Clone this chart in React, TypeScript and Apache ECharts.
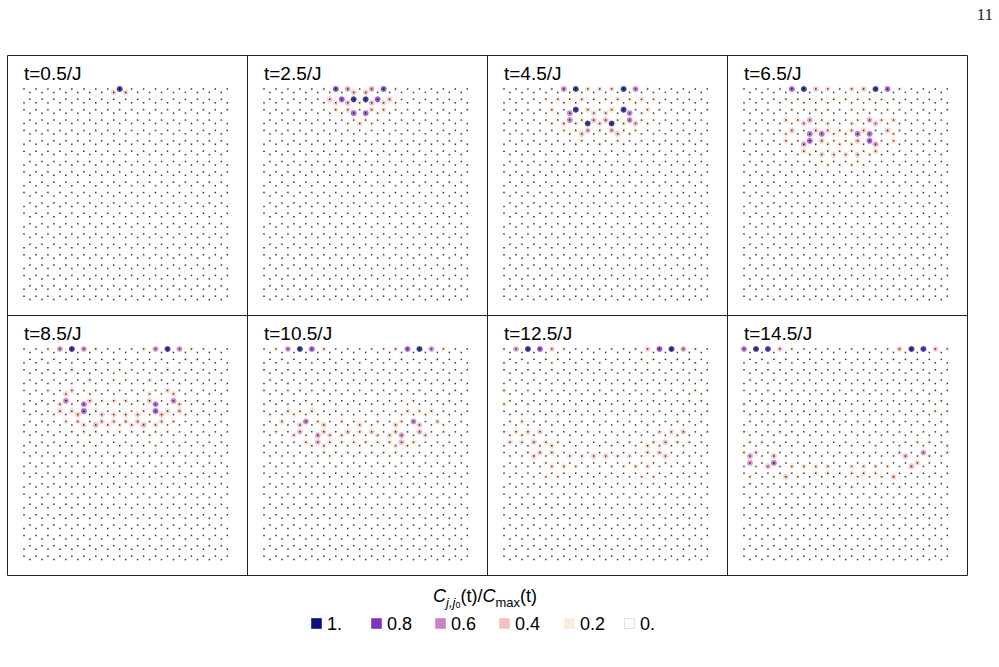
import React, { useEffect, useRef } from "react";
import * as echarts from "echarts";

// ---------- data ----------
const panelTitles = ["t=0.5/J", "t=2.5/J", "t=4.5/J", "t=6.5/J", "t=8.5/J", "t=10.5/J", "t=12.5/J", "t=14.5/J"];
const legendLabels = ["1.", "0.8", "0.6", "0.4", "0.2", "0."];
const legendColors = ["#100d80", "#7d34c2", "#d081c1", "#f4c0c0", "#fdecd8", "#ffffff"];
const pageNumber = "11";
const NX = 35; // sites per zigzag chain
const NK = 21; // number of zigzag chains

// [column i, chain k, C/Cmax]
const corr05 = [[16, 0, 1.0], [15, 0, 0.35], [17, 0, 0.35]];

const corr25 = [
  [10, 0, 0.12], [12, 0, 0.85], [14, 0, 0.55], [15, 0, 0.4], [17, 0, 0.4], [18, 0, 0.55], [20, 0, 0.85], [22, 0, 0.12],
  [11, 1, 0.4], [13, 1, 0.8], [15, 1, 1.0], [17, 1, 1.0], [19, 1, 0.8], [21, 1, 0.4], [12, 1, 0.3], [14, 1, 0.45], [16, 1, 0.2], [18, 1, 0.45], [20, 1, 0.3], [10, 1, 0.12], [22, 1, 0.12],
  [12, 2, 0.25], [14, 2, 0.3], [18, 2, 0.3], [20, 2, 0.25], [15, 2, 0.75], [17, 2, 0.75], [13, 2, 0.15], [19, 2, 0.15], [11, 2, 0.12], [21, 2, 0.12],
  [14, 3, 0.15], [16, 3, 0.3], [18, 3, 0.15], [15, 3, 0.12], [17, 3, 0.12],
];

const corr45 = [
  [8, 0, 0.15], [10, 0, 0.65], [12, 0, 1.0], [14, 0, 0.3], [16, 0, 0.3], [18, 0, 0.3], [20, 0, 1.0], [22, 0, 0.65], [24, 0, 0.15],
  [7, 1, 0.12], [9, 1, 0.25], [11, 1, 0.15], [13, 1, 0.25], [15, 1, 0.15], [17, 1, 0.15], [19, 1, 0.25], [21, 1, 0.15], [23, 1, 0.25], [25, 1, 0.12], [10, 1, 0.12], [22, 1, 0.12],
  [8, 2, 0.25], [12, 2, 1.0], [14, 2, 0.3], [18, 2, 0.3], [20, 2, 1.0], [24, 2, 0.25], [11, 2, 0.65], [15, 2, 0.3], [17, 2, 0.3], [21, 2, 0.65], [6, 2, 0.1], [26, 2, 0.1], [16, 2, 0.12], [9, 2, 0.12], [23, 2, 0.12],
  [11, 3, 0.65], [13, 3, 0.15], [15, 3, 0.45], [17, 3, 0.45], [19, 3, 0.15], [21, 3, 0.65], [10, 3, 0.3], [12, 3, 0.2], [14, 3, 1.0], [16, 3, 0.3], [18, 3, 1.0], [20, 3, 0.2], [22, 3, 0.4], [9, 3, 0.12], [23, 3, 0.12], [24, 3, 0.15], [8, 3, 0.15],
  [14, 4, 0.45], [16, 4, 0.2], [18, 4, 0.45], [13, 4, 0.4], [19, 4, 0.4], [11, 4, 0.15], [21, 4, 0.15], [10, 4, 0.12], [22, 4, 0.12], [12, 4, 0.15], [20, 4, 0.15],
  [16, 5, 0.2], [12, 5, 0.1], [20, 5, 0.1], [13, 5, 0.12], [19, 5, 0.12],
];

const corr65 = [
  [6, 0, 0.12], [8, 0, 0.75], [10, 0, 1.0], [12, 0, 0.4], [14, 0, 0.3], [16, 0, 0.15], [18, 0, 0.3], [20, 0, 0.4], [22, 0, 1.0], [24, 0, 0.75], [26, 0, 0.12],
  [7, 1, 0.12], [9, 1, 0.1], [11, 1, 0.15], [13, 1, 0.12], [15, 1, 0.15], [17, 1, 0.15], [19, 1, 0.12], [21, 1, 0.15], [23, 1, 0.1], [25, 1, 0.12], [6, 1, 0.1], [10, 1, 0.1], [14, 1, 0.1], [18, 1, 0.1], [22, 1, 0.1], [26, 1, 0.1],
  [6, 2, 0.12], [8, 2, 0.1], [12, 2, 0.12], [14, 2, 0.12], [18, 2, 0.12], [20, 2, 0.12], [24, 2, 0.1], [26, 2, 0.12], [11, 2, 0.1], [21, 2, 0.1],
  [7, 3, 0.3], [9, 3, 0.25], [11, 3, 0.5], [21, 3, 0.5], [23, 3, 0.25], [25, 3, 0.3], [10, 3, 0.4], [14, 3, 0.25], [18, 3, 0.25], [22, 3, 0.4], [6, 3, 0.12], [26, 3, 0.12], [13, 3, 0.12], [19, 3, 0.12],
  [6, 4, 0.15], [8, 4, 0.4], [12, 4, 0.35], [14, 4, 0.3], [16, 4, 0.25], [18, 4, 0.3], [20, 4, 0.35], [24, 4, 0.4], [26, 4, 0.15], [11, 4, 0.7], [13, 4, 0.7], [19, 4, 0.7], [21, 4, 0.7], [7, 4, 0.2], [25, 4, 0.2], [15, 4, 0.2], [17, 4, 0.2],
  [7, 5, 0.25], [11, 5, 0.75], [13, 5, 0.4], [19, 5, 0.4], [21, 5, 0.75], [25, 5, 0.25], [10, 5, 0.55], [14, 5, 0.2], [16, 5, 0.2], [18, 5, 0.2], [22, 5, 0.55], [8, 5, 0.15], [24, 5, 0.15], [15, 5, 0.15], [17, 5, 0.15],
  [10, 6, 0.3], [22, 6, 0.3], [13, 6, 0.35], [15, 6, 0.3], [17, 6, 0.3], [19, 6, 0.35], [12, 6, 0.15], [20, 6, 0.15], [11, 6, 0.12], [21, 6, 0.12], [14, 6, 0.15], [18, 6, 0.15], [16, 6, 0.12],
  [12, 7, 0.12], [14, 7, 0.15], [16, 7, 0.12], [18, 7, 0.15], [20, 7, 0.12], [13, 7, 0.1], [19, 7, 0.1],
];

const corr85 = [
  [4, 0, 0.15], [6, 0, 0.6], [8, 0, 1.0], [10, 0, 0.6], [12, 0, 0.2], [20, 0, 0.2], [22, 0, 0.6], [24, 0, 1.0], [26, 0, 0.6], [28, 0, 0.15],
  [3, 1, 0.12], [5, 1, 0.15], [27, 1, 0.15], [29, 1, 0.12], [9, 1, 0.1], [23, 1, 0.1],
  [8, 2, 0.25], [24, 2, 0.25], [16, 2, 0.1], [4, 2, 0.1], [28, 2, 0.1],
  [11, 3, 0.25], [21, 3, 0.25], [6, 3, 0.1], [26, 3, 0.1], [15, 3, 0.1], [17, 3, 0.1],
  [8, 4, 0.3], [7, 4, 0.3], [24, 4, 0.3], [25, 4, 0.3], [11, 4, 0.2], [21, 4, 0.2], [4, 4, 0.1], [28, 4, 0.1],
  [3, 5, 0.15], [7, 5, 0.65], [11, 5, 0.35], [15, 5, 0.25], [17, 5, 0.25], [21, 5, 0.35], [25, 5, 0.65], [29, 5, 0.15], [6, 5, 0.3], [10, 5, 0.7], [22, 5, 0.7], [26, 5, 0.3], [13, 5, 0.12], [19, 5, 0.12],
  [6, 6, 0.35], [8, 6, 0.3], [10, 6, 0.75], [22, 6, 0.75], [24, 6, 0.3], [26, 6, 0.35], [9, 6, 0.4], [13, 6, 0.35], [15, 6, 0.3], [17, 6, 0.3], [19, 6, 0.35], [23, 6, 0.4], [12, 6, 0.15], [20, 6, 0.15], [5, 6, 0.12], [27, 6, 0.12],
  [7, 7, 0.2], [13, 7, 0.35], [15, 7, 0.3], [17, 7, 0.3], [19, 7, 0.35], [23, 7, 0.3], [25, 7, 0.2], [9, 7, 0.3], [12, 7, 0.45], [20, 7, 0.45], [14, 7, 0.25], [18, 7, 0.25], [10, 7, 0.3], [22, 7, 0.3], [16, 7, 0.2],
  [8, 8, 0.12], [10, 8, 0.15], [12, 8, 0.15], [14, 8, 0.12], [16, 8, 0.1], [18, 8, 0.12], [20, 8, 0.15], [22, 8, 0.15], [24, 8, 0.12], [11, 8, 0.12], [21, 8, 0.12],
  [12, 9, 0.08], [14, 9, 0.08], [16, 9, 0.1], [18, 9, 0.08], [20, 9, 0.08],
];

const corr105 = [
  [2, 0, 0.15], [4, 0, 0.6], [6, 0, 1.0], [8, 0, 0.75], [10, 0, 0.25], [22, 0, 0.25], [24, 0, 0.75], [26, 0, 1.0], [28, 0, 0.6], [30, 0, 0.15],
  [3, 1, 0.12], [5, 1, 0.1], [9, 1, 0.15], [23, 1, 0.15], [27, 1, 0.1], [29, 1, 0.12], [11, 1, 0.1], [21, 1, 0.1],
  [0, 2, 0.15], [34, 2, 0.12], [4, 2, 0.1], [28, 2, 0.1], [12, 2, 0.08], [20, 2, 0.08],
  [1, 3, 0.12], [4, 3, 0.12], [27, 3, 0.12], [31, 3, 0.1], [8, 3, 0.1], [24, 3, 0.1], [15, 3, 0.08], [17, 3, 0.08],
  [0, 4, 0.12], [6, 4, 0.15], [10, 4, 0.12], [22, 4, 0.12], [26, 4, 0.15], [32, 4, 0.12], [3, 4, 0.1], [29, 4, 0.1],
  [1, 5, 0.12], [7, 5, 0.15], [11, 5, 0.1], [21, 5, 0.1], [25, 5, 0.15], [31, 5, 0.12], [2, 5, 0.1], [30, 5, 0.1],
  [4, 6, 0.25], [6, 6, 0.2], [8, 6, 0.25], [24, 6, 0.25], [26, 6, 0.2], [28, 6, 0.25], [1, 6, 0.12], [31, 6, 0.12], [5, 6, 0.15], [27, 6, 0.15], [13, 6, 0.1], [19, 6, 0.1],
  [3, 7, 0.3], [7, 7, 0.65], [25, 7, 0.65], [29, 7, 0.3], [6, 7, 0.4], [10, 7, 0.35], [16, 7, 0.3], [22, 7, 0.35], [26, 7, 0.4], [9, 7, 0.2], [23, 7, 0.2], [13, 7, 0.2], [19, 7, 0.2], [2, 7, 0.12], [30, 7, 0.12], [14, 7, 0.15], [18, 7, 0.15],
  [6, 8, 0.45], [10, 8, 0.35], [14, 8, 0.35], [16, 8, 0.25], [18, 8, 0.35], [22, 8, 0.35], [26, 8, 0.45], [5, 8, 0.3], [9, 8, 0.55], [11, 8, 0.3], [13, 8, 0.25], [19, 8, 0.25], [21, 8, 0.3], [23, 8, 0.55], [27, 8, 0.3], [2, 8, 0.15], [30, 8, 0.15],
  [9, 9, 0.45], [23, 9, 0.45], [7, 9, 0.25], [11, 9, 0.25], [13, 9, 0.2], [15, 9, 0.2], [17, 9, 0.2], [19, 9, 0.2], [21, 9, 0.25], [25, 9, 0.25], [8, 9, 0.2], [24, 9, 0.2], [10, 9, 0.25], [22, 9, 0.25],
  [10, 10, 0.15], [12, 10, 0.12], [14, 10, 0.12], [16, 10, 0.12], [18, 10, 0.12], [20, 10, 0.12], [22, 10, 0.15], [9, 10, 0.1], [23, 10, 0.1],
  [12, 11, 0.08], [16, 11, 0.08], [20, 11, 0.08],
];

const corr125 = [
  [0, 0, 0.15], [2, 0, 0.55], [4, 0, 1.0], [6, 0, 0.8], [8, 0, 0.35], [10, 0, 0.12], [22, 0, 0.12], [24, 0, 0.35], [26, 0, 0.8], [28, 0, 1.0], [30, 0, 0.55], [32, 0, 0.15],
  [1, 1, 0.12], [3, 1, 0.1], [7, 1, 0.15], [9, 1, 0.15], [23, 1, 0.15], [25, 1, 0.12], [29, 1, 0.12], [31, 1, 0.12], [0, 1, 0.08], [32, 1, 0.08],
  [0, 2, 0.1], [4, 2, 0.1], [8, 2, 0.12], [14, 2, 0.08], [24, 2, 0.12], [28, 2, 0.1], [32, 2, 0.1],
  [1, 3, 0.12], [5, 3, 0.1], [10, 3, 0.1], [22, 3, 0.1], [27, 3, 0.1], [33, 3, 0.12],
  [0, 4, 0.2], [6, 4, 0.12], [16, 4, 0.08], [26, 4, 0.12], [32, 4, 0.15], [34, 4, 0.12],
  [0, 5, 0.15], [1, 5, 0.15], [4, 5, 0.1], [7, 5, 0.12], [16, 5, 0.15], [25, 5, 0.1], [31, 5, 0.12], [33, 5, 0.12],
  [2, 6, 0.12], [6, 6, 0.12], [9, 6, 0.15], [22, 6, 0.12], [26, 6, 0.12], [30, 6, 0.12], [34, 6, 0.1],
  [1, 7, 0.15], [3, 7, 0.2], [8, 7, 0.1], [24, 7, 0.12], [29, 7, 0.15], [33, 7, 0.1],
  [0, 8, 0.12], [2, 8, 0.25], [4, 8, 0.3], [6, 8, 0.35], [14, 8, 0.12], [26, 8, 0.25], [28, 8, 0.3], [30, 8, 0.35], [34, 8, 0.12], [3, 8, 0.2], [29, 8, 0.2],
  [1, 9, 0.3], [3, 9, 0.25], [5, 9, 0.4], [7, 9, 0.25], [9, 9, 0.15], [11, 9, 0.12], [19, 9, 0.12], [21, 9, 0.15], [25, 9, 0.25], [27, 9, 0.4], [29, 9, 0.25], [31, 9, 0.15], [8, 9, 0.3], [24, 9, 0.3], [6, 9, 0.15], [26, 9, 0.15],
  [4, 10, 0.15], [6, 10, 0.35], [8, 10, 0.3], [24, 10, 0.3], [26, 10, 0.35], [30, 10, 0.15], [5, 10, 0.35], [11, 10, 0.25], [13, 10, 0.25], [15, 10, 0.35], [17, 10, 0.35], [19, 10, 0.25], [21, 10, 0.25], [27, 10, 0.35],
  [8, 11, 0.25], [10, 11, 0.25], [12, 11, 0.15], [14, 11, 0.12], [18, 11, 0.12], [20, 11, 0.15], [22, 11, 0.25], [24, 11, 0.25], [7, 11, 0.15], [25, 11, 0.15],
  [7, 12, 0.12], [9, 12, 0.1], [23, 12, 0.1], [25, 12, 0.12], [16, 12, 0.08],
];

const corr145 = [
  [0, 0, 0.7], [2, 0, 1.0], [4, 0, 0.95], [6, 0, 0.4], [8, 0, 0.12], [24, 0, 0.12], [26, 0, 0.4], [28, 0, 1.0], [30, 0, 0.95], [32, 0, 0.4], [34, 0, 0.15],
  [5, 1, 0.15], [7, 1, 0.12], [25, 1, 0.15], [27, 1, 0.12], [3, 1, 0.08], [29, 1, 0.08],
  [4, 2, 0.1], [28, 2, 0.12], [16, 2, 0.06],
  [1, 3, 0.12], [5, 3, 0.08], [27, 3, 0.1], [31, 3, 0.08],
  [4, 4, 0.08], [20, 4, 0.08], [28, 4, 0.12], [32, 4, 0.08],
  [0, 5, 0.12], [3, 5, 0.12], [15, 5, 0.1], [33, 5, 0.12], [31, 5, 0.1],
  [1, 6, 0.1], [10, 6, 0.1], [32, 6, 0.15], [34, 6, 0.12],
  [1, 7, 0.15], [13, 7, 0.15], [19, 7, 0.15], [25, 7, 0.12], [33, 7, 0.1], [7, 7, 0.1],
  [0, 8, 0.12], [6, 8, 0.2], [8, 8, 0.1], [26, 8, 0.1], [34, 8, 0.15],
  [1, 9, 0.2], [3, 9, 0.15], [29, 9, 0.2], [31, 9, 0.2], [34, 9, 0.15], [27, 9, 0.1],
  [0, 10, 0.2], [1, 10, 0.55], [2, 10, 0.3], [5, 10, 0.45], [26, 10, 0.25], [27, 10, 0.45], [30, 10, 0.55], [31, 10, 0.2], [34, 10, 0.2],
  [1, 11, 0.6], [5, 11, 0.7], [4, 11, 0.45], [28, 11, 0.45], [8, 11, 0.25], [10, 11, 0.25], [12, 11, 0.25], [14, 11, 0.25], [18, 11, 0.2], [20, 11, 0.25], [22, 11, 0.25], [24, 11, 0.2], [29, 11, 0.3],
  [7, 12, 0.4], [25, 12, 0.4], [1, 12, 0.2], [12, 12, 0.25], [14, 12, 0.25], [16, 12, 0.2], [18, 12, 0.25], [20, 12, 0.25], [22, 12, 0.2], [9, 12, 0.15], [23, 12, 0.15],
  [1, 13, 0.15], [10, 13, 0.15], [14, 13, 0.12], [16, 13, 0.2], [18, 13, 0.2], [22, 13, 0.15], [26, 13, 0.12],
];

const panelData = [corr05, corr25, corr45, corr65, corr85, corr105, corr125, corr145];

// ---------- layout constants ----------
const FRAME_L = 7, FRAME_T = 55, PANEL_W = 240, PANEL_H = 260;
const LAT_OFF_X = 17, LAT_OFF_Y = 34;
const PX_PER_UNIT = 6.905;
const SANS = "'Liberation Sans', Arial, sans-serif";
const SERIF = "'Liberation Serif', 'Times New Roman', serif";
const HALF_SQ3 = Math.sqrt(3) / 2;

// honeycomb lattice position (bond length = 1) of site i on zigzag chain k
const siteX = (i: number) => i * HALF_SQ3;
const siteY = (i: number, k: number) => k * 1.5 + ((i + k) % 2 === 0 ? 0 : 0.5);

const X_MAX = siteX(NX - 1);
const Y_MAX = (NK - 1) * 1.5 + 0.5;

export default function App() {
  const ref = useRef<HTMLDivElement>(null);
  useEffect(() => {
    if (!ref.current) return;
    const chart = echarts.init(ref.current, null, { renderer: "svg" });

    const grids: any[] = [], xAxes: any[] = [], yAxes: any[] = [], series: any[] = [];
    const colorSeriesIdx: number[] = [];
    const latticePts: number[][] = [];
    for (let k = 0; k < NK; k++) for (let i = 0; i < NX; i++) latticePts.push([siteX(i), siteY(i, k)]);

    const graphics: any[] = [];

    panelData.forEach((d, p) => {
      const c = p % 4, r = Math.floor(p / 4);
      const pl = FRAME_L + c * PANEL_W, pt = FRAME_T + r * PANEL_H;
      grids.push({ left: pl + LAT_OFF_X, top: pt + LAT_OFF_Y, width: X_MAX * PX_PER_UNIT, height: Y_MAX * PX_PER_UNIT });
      xAxes.push({ gridIndex: p, type: "value", min: 0, max: X_MAX, show: false });
      yAxes.push({ gridIndex: p, type: "value", min: 0, max: Y_MAX, inverse: true, show: false });
      colorSeriesIdx.push(series.length);
      series.push({
        type: "scatter", xAxisIndex: p, yAxisIndex: p, clip: false, z: 2,
        symbol: "circle", symbolSize: 6,
        data: d.map(([i, k, v]) => [siteX(i), siteY(i, k), v]),
      });
      series.push({
        type: "scatter", xAxisIndex: p, yAxisIndex: p, clip: false, z: 3,
        symbol: "rect", symbolSize: 1.5, silent: true,
        itemStyle: { color: "#000" },
        data: latticePts,
      });
      graphics.push({
        type: "text", x: pl + 17, y: pt + 18,
        style: { text: panelTitles[p], font: `19px ${SANS}`, fill: "#000", verticalAlign: "middle", align: "left" },
      });
    });

    // frame
    graphics.push({ type: "rect", shape: { x: FRAME_L + 0.5, y: FRAME_T + 0.5, width: 4 * PANEL_W, height: 2 * PANEL_H }, style: { fill: "none", stroke: "#222", lineWidth: 1 } });
    for (let c = 1; c < 4; c++) {
      const x = FRAME_L + c * PANEL_W + 0.5;
      graphics.push({ type: "line", shape: { x1: x, y1: FRAME_T, x2: x, y2: FRAME_T + 2 * PANEL_H }, style: { stroke: "#222", lineWidth: 1 } });
    }
    graphics.push({ type: "line", shape: { x1: FRAME_L, y1: FRAME_T + PANEL_H + 0.5, x2: FRAME_L + 4 * PANEL_W, y2: FRAME_T + PANEL_H + 0.5 }, style: { stroke: "#222", lineWidth: 1 } });

    // page number
    graphics.push({ type: "text", x: 993, y: 14, style: { text: pageNumber, font: `17px ${SERIF}`, fill: "#222", align: "right", verticalAlign: "middle" } });

    // legend title
    graphics.push({
      type: "text", x: 485, y: 596,
      style: {
        text: "{c|C}{s|j,j}{ss|0}{n|(t)/}{c|C}{m|max}{n|(t)}",
        align: "center", verticalAlign: "middle", fill: "#000",
        rich: {
          c: { fontFamily: SANS, fontStyle: "italic", fontSize: 18, lineHeight: 26, verticalAlign: "middle" },
          n: { fontFamily: SANS, fontSize: 18, lineHeight: 26, verticalAlign: "middle" },
          s: { fontFamily: SANS, fontStyle: "italic", fontSize: 13, lineHeight: 16, verticalAlign: "bottom" },
          m: { fontFamily: SANS, fontSize: 13, lineHeight: 17, verticalAlign: "bottom" },
          ss: { fontFamily: SANS, fontSize: 9, lineHeight: 8, verticalAlign: "bottom" },
        },
      },
    });
    // legend swatches
    const swX = [311, 371, 435, 499, 564, 624];
    legendLabels.forEach((lab, j) => {
      const base = legendColors[j] === "#ffffff" ? "#d8d8d8" : legendColors[j];
      graphics.push({
        type: "rect", shape: { x: swX[j] + 0.5, y: 618.5, width: 10, height: 10 },
        style: { fill: legendColors[j], stroke: echarts.color.lift(base, 0.2), lineWidth: 1 },
      });
      graphics.push({
        type: "text", x: swX[j] + 16, y: 624,
        style: { text: lab, font: `18px ${SANS}`, fill: "#000", verticalAlign: "middle", align: "left" },
      });
    });

    chart.setOption({
      animation: false,
      backgroundColor: "#fff",
      grid: grids,
      xAxis: xAxes,
      yAxis: yAxes,
      visualMap: {
        type: "continuous", show: false, min: 0, max: 1, dimension: 2, seriesIndex: colorSeriesIdx,
        inRange: { color: [...legendColors].reverse() },
      },
      series,
      graphic: graphics,
    });
    return () => chart.dispose();
  }, []);
  return <div ref={ref} style={{ position: "fixed", left: 0, top: 0, width: 999, height: 667 }} />;
}
